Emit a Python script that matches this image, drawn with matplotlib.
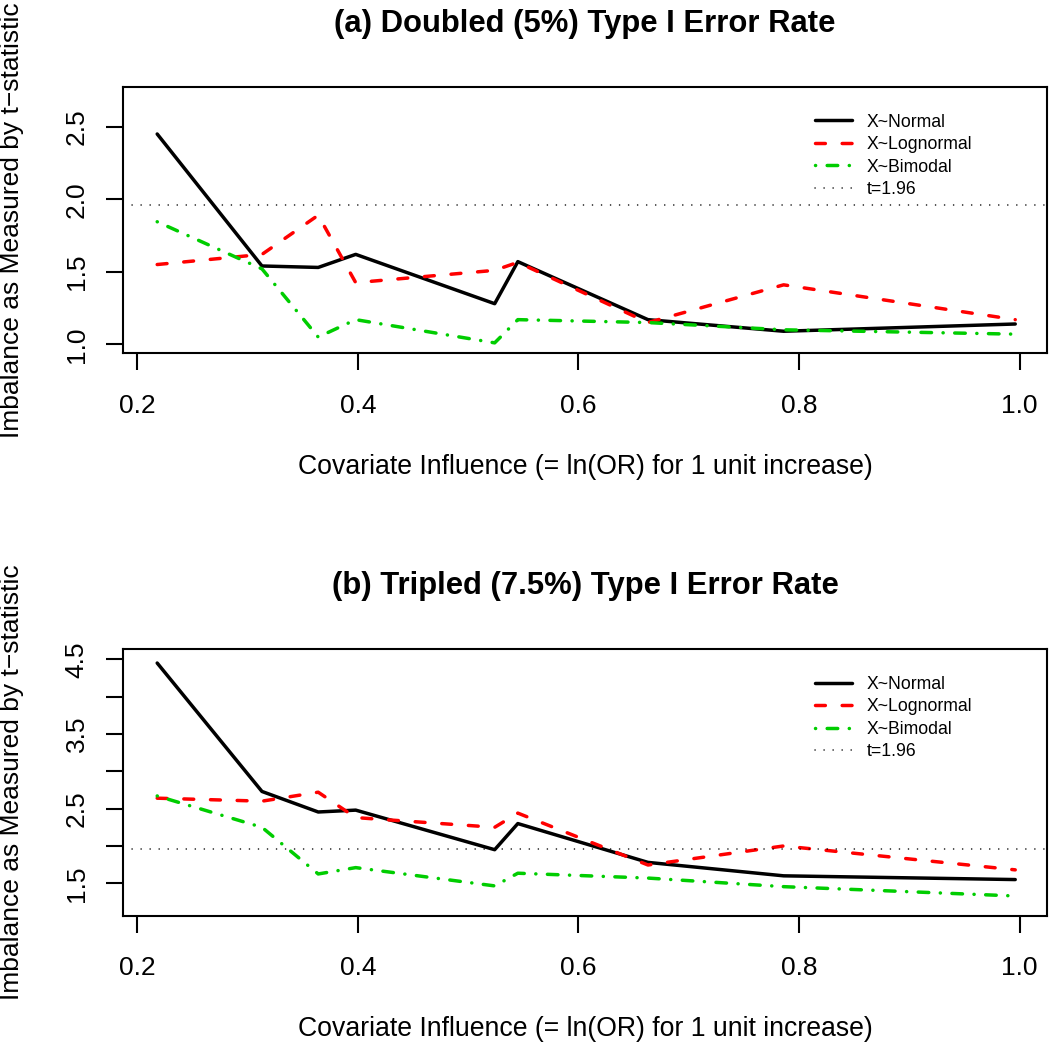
import matplotlib
matplotlib.use("Agg")
import matplotlib.pyplot as plt

plt.rcParams['font.family'] = ['Liberation Sans', 'DejaVu Sans']
plt.rcParams['lines.scale_dashes'] = False

# covariate influence (ln OR)
x = [0.218, 0.313, 0.364, 0.398, 0.524, 0.545, 0.663, 0.786, 0.996]

# (a) doubled type I error
a_normal = [2.45, 1.54, 1.53, 1.62, 1.28, 1.57, 1.17, 1.09, 1.14]
a_lognormal = [1.55, 1.62, 1.89, 1.425, 1.51, 1.565, 1.15, 1.41, 1.17]
a_bimodal = [1.845, 1.52, 1.05, 1.17, 1.01, 1.17, 1.15, 1.10, 1.07]

# (b) tripled type I error
b_normal = [4.45, 2.73, 2.455, 2.48, 1.95, 2.30, 1.78, 1.60, 1.55]
b_lognormal = [2.64, 2.60, 2.72, 2.38, 2.25, 2.44, 1.745, 2.00, 1.68]
b_bimodal = [2.67, 2.25, 1.625, 1.71, 1.465, 1.635, 1.57, 1.455, 1.33]

t_crit = 1.96
titles = ["(a) Doubled (5%) Type I Error Rate", "(b) Tripled (7.5%) Type I Error Rate"]
xticks = [0.2, 0.4, 0.6, 0.8, 1.0]
a_yticks = [1.0, 1.5, 2.0, 2.5]
b_yticks = [1.5, 2.0, 2.5, 3.0, 3.5, 4.0, 4.5]
xlab = "Covariate Influence (= ln(OR) for 1 unit increase)"
ylab = "Imbalance as Measured by t\u2212statistic"

fig = plt.figure(figsize=(10.5, 10.44), dpi=100)
W, H = 1050, 1044

def make_axes(top_px, bot_px):
    return fig.add_axes([123 / W, 1 - bot_px / H, 924 / W, (bot_px - top_px) / H])

ax1 = make_axes(87, 353.3)
ax2 = make_axes(649.3, 915.7)

panels = [
    (ax1, a_normal, a_lognormal, a_bimodal, (0.938, 2.774), a_yticks, titles[0]),
    (ax2, b_normal, b_lognormal, b_bimodal, (1.066, 4.634), b_yticks, titles[1]),
]

for ax, yn, yl, yb, ylim, yt, title in panels:
    ax.plot(x, yn, color='black', lw=2.5, solid_capstyle='round', solid_joinstyle='round',
            label="X~Normal")
    ax.plot(x, yl, color='#FF0000', lw=2.5, dashes=(7.1, 12.1), dash_capstyle='round',
            label="X~Lognormal")
    ax.plot(x, yb, color='#00CD00', lw=2.5, dashes=(0.1, 8.3, 7.6, 8.3), dash_capstyle='round',
            label="X~Bimodal")
    ax.axhline(t_crit, color='black', lw=1.1, dashes=(0.1, 6.4), dash_capstyle='round',
               label="t=1.96")

    ax.set_xlim(0.187, 1.0248)
    ax.set_ylim(*ylim)
    ax.set_xticks(xticks)
    ax.set_xticklabels([f"{v:.1f}" for v in xticks])
    ax.set_yticks(yt)
    if ax is ax2:
        # R drops every second label on the crowded axis
        ax.set_yticklabels([f"{v:.1f}" if i % 2 == 0 else "" for i, v in enumerate(yt)])
    else:
        ax.set_yticklabels([f"{v:.1f}" for v in yt])

    for s in ax.spines.values():
        s.set_linewidth(1.5)
    ax.tick_params(axis='both', length=12, width=1.5, labelsize=19, direction='out')
    ax.tick_params(axis='x', pad=17)
    ax.tick_params(axis='y', pad=16.3)
    for lab in ax.get_yticklabels():
        lab.set_rotation(90)
        lab.set_va('baseline')
        lab.set_ha('center')
        lab.set_rotation_mode('anchor')

    ax.set_title(title, fontsize=22.3, fontweight='bold', pad=39.8)
    ax.set_xlabel(xlab, fontsize=19.2)
    ax.xaxis.set_label_coords(0.5, -0.427)
    ax.xaxis.label.set_va('center')
    ax.set_ylabel(ylab, fontsize=19)
    ax.yaxis.set_label_coords(-0.120, 0.5)
    ax.yaxis.label.set_va('center')

    ax.legend(loc='upper left', bbox_to_anchor=(0.749, 0.90), frameon=False,
              fontsize=12.7, handlelength=2.1, handletextpad=0.83, labelspacing=0.31,
              borderpad=0, borderaxespad=0)

fig.savefig("out.png", dpi=100)
